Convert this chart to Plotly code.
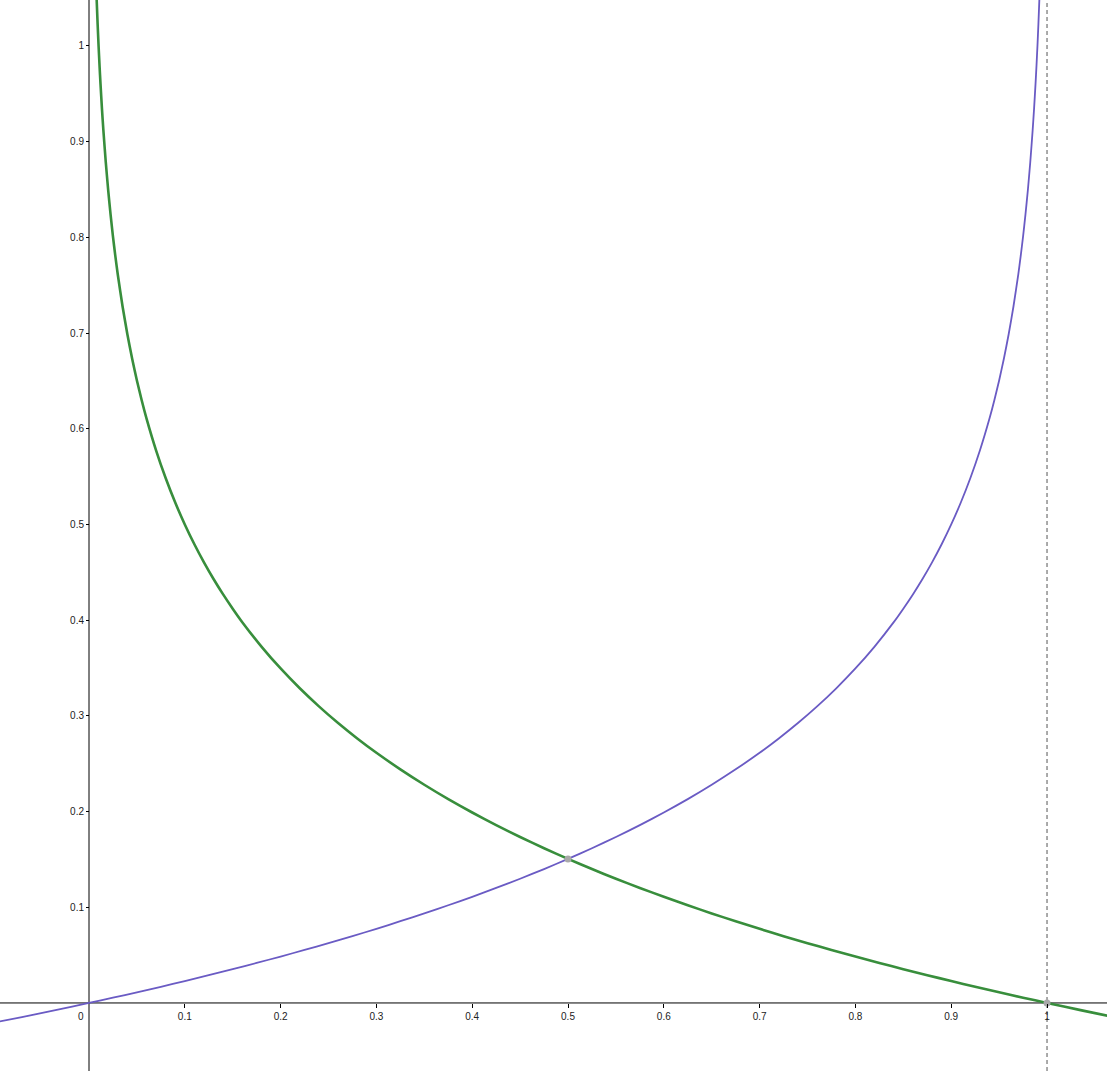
import plotly.graph_objects as go

# Green (decreasing) curve
green_x = [0.008, 0.009, 0.01, 0.011, 0.012, 0.0135, 0.015, 0.0175, 0.02, 0.0225, 0.025, 0.0275, 0.03,
           0.035, 0.04, 0.045, 0.05, 0.055, 0.06, 0.07, 0.08, 0.09, 0.1, 0.11, 0.12, 0.13, 0.14, 0.15,
           0.16, 0.18, 0.2, 0.22, 0.24, 0.26, 0.28, 0.3, 0.325, 0.35, 0.375, 0.4, 0.425, 0.45, 0.475,
           0.5, 0.525, 0.55, 0.575, 0.6, 0.625, 0.65, 0.675, 0.7, 0.725, 0.75, 0.775, 0.8, 0.825, 0.85,
           0.875, 0.9, 0.925, 0.95, 0.975, 1.0, 1.035, 1.07]
green_y = [1.0485, 1.0229, 1.0000, 0.9793, 0.9604, 0.9348, 0.9120, 0.8785, 0.8495, 0.8239, 0.8010, 0.7803, 0.7614,
           0.7280, 0.6990, 0.6734, 0.6505, 0.6298, 0.6109, 0.5775, 0.5485, 0.5229, 0.5000, 0.4793, 0.4604, 0.4430,
           0.4269, 0.4120, 0.3979, 0.3724, 0.3495, 0.3288, 0.3099, 0.2925, 0.2764, 0.2614, 0.2441, 0.2280, 0.2130,
           0.1990, 0.1858, 0.1734, 0.1617, 0.1505, 0.1399, 0.1298, 0.1202, 0.1109, 0.1021, 0.0935, 0.0854, 0.0775,
           0.0698, 0.0625, 0.0554, 0.0485, 0.0418, 0.0353, 0.0290, 0.0229, 0.0169, 0.0111, 0.0055, 0.0000,
           -0.0075, -0.0147]

# Purple (increasing) curve
purple_x = [-0.1, -0.07, -0.035, 0.0, 0.025, 0.05, 0.075, 0.1, 0.125, 0.15, 0.175, 0.2, 0.225, 0.25,
            0.275, 0.3, 0.325, 0.35, 0.375, 0.4, 0.425, 0.45, 0.475, 0.5, 0.525, 0.55, 0.575, 0.6, 0.625,
            0.65, 0.675, 0.7, 0.72, 0.74, 0.76, 0.78, 0.8, 0.82, 0.84, 0.85, 0.86, 0.87, 0.88, 0.89, 0.9,
            0.91, 0.92, 0.93, 0.94, 0.945, 0.95, 0.955, 0.96, 0.965, 0.97, 0.9725, 0.975, 0.9775, 0.98,
            0.9825, 0.985, 0.9865, 0.988, 0.989, 0.99, 0.991, 0.992]
purple_y = [-0.0207, -0.0147, -0.0075, 0.0000, 0.0055, 0.0111, 0.0169, 0.0229, 0.0290, 0.0353, 0.0418, 0.0485,
            0.0554, 0.0625, 0.0698, 0.0775, 0.0854, 0.0935, 0.1021, 0.1109, 0.1202, 0.1298, 0.1399, 0.1505,
            0.1617, 0.1734, 0.1858, 0.1990, 0.2130, 0.2280, 0.2441, 0.2614, 0.2764, 0.2925, 0.3099, 0.3288,
            0.3495, 0.3724, 0.3979, 0.4120, 0.4269, 0.4430, 0.4604, 0.4793, 0.5000, 0.5229, 0.5485, 0.5775,
            0.6109, 0.6298, 0.6505, 0.6734, 0.6990, 0.7280, 0.7614, 0.7803, 0.8010, 0.8239, 0.8495, 0.8785,
            0.9120, 0.9348, 0.9604, 0.9793, 1.0000, 1.0229, 1.0485]

# Marked points
point_x = [0.5, 1.0]
point_y = [0.1505, 0.0]

# Vertical asymptote
asymptote_x = 1.0

# Tick values / labels
x_ticks = [0.1, 0.2, 0.3, 0.4, 0.5, 0.6, 0.7, 0.8, 0.9, 1.0]
x_labels = ["0.1", "0.2", "0.3", "0.4", "0.5", "0.6", "0.7", "0.8", "0.9", "1"]
y_ticks = [0.1, 0.2, 0.3, 0.4, 0.5, 0.6, 0.7, 0.8, 0.9, 1.0]
y_labels = ["0.1", "0.2", "0.3", "0.4", "0.5", "0.6", "0.7", "0.8", "0.9", "1"]

W, H = 1107, 1071
x_range = [-0.0929, 1.0626]
y_range = [-0.0711, 1.048]

fig = go.Figure()

fig.add_trace(go.Scatter(x=purple_x, y=purple_y, mode="lines",
                         line=dict(color="#6a5bc4", width=1.8, shape="spline", smoothing=0.5),
                         hoverinfo="skip", showlegend=False))
fig.add_trace(go.Scatter(x=green_x, y=green_y, mode="lines",
                         line=dict(color="#388e3c", width=2.6, shape="spline", smoothing=0.5),
                         hoverinfo="skip", showlegend=False))
fig.add_trace(go.Scatter(x=point_x, y=point_y, mode="markers",
                         marker=dict(color="#a9a9a9", size=7),
                         hoverinfo="skip", showlegend=False))

fig.add_shape(type="line", x0=asymptote_x, x1=asymptote_x, y0=0, y1=1, yref="paper", xref="x",
              line=dict(color="#555555", width=1, dash="4px,3px"), layer="below")

# axis position in paper coordinates
x_axis_pos = (0 - y_range[0]) / (y_range[1] - y_range[0])
y_axis_pos = (0 - x_range[0]) / (x_range[1] - x_range[0])

fig.update_layout(
    width=W, height=H,
    margin=dict(l=0, r=0, t=0, b=0),
    plot_bgcolor="white", paper_bgcolor="white",
    font=dict(family="Liberation Sans, Arial, sans-serif", size=10, color="#222222"),
    xaxis=dict(range=x_range, showgrid=False, zeroline=False, showline=False,
               tickvals=x_ticks, ticktext=x_labels, ticks="outside", ticklen=4,
               tickcolor="black", anchor="free", position=x_axis_pos),
    yaxis=dict(range=y_range, showgrid=False, zeroline=False, showline=False,
               tickvals=y_ticks, ticktext=y_labels, ticks="outside", ticklen=3,
               tickcolor="black", anchor="free", position=y_axis_pos),
)

# axis lines through origin
fig.add_shape(type="line", x0=0, x1=1, xref="paper", y0=0, y1=0, yref="y",
              line=dict(color="black", width=1), layer="below")
fig.add_shape(type="line", x0=0, x1=0, xref="x", y0=0, y1=1, yref="paper",
              line=dict(color="black", width=1), layer="below")

fig.add_annotation(x=0, y=0, xref="x", yref="y", text="0", showarrow=False,
                   xanchor="right", yanchor="top", xshift=-3, yshift=-6,
                   font=dict(size=10, color="#222222"))

fig.write_html("out.html", config={"displayModeBar": False},
               post_script="document.body.style.margin='0';document.body.style.overflow='hidden';")
